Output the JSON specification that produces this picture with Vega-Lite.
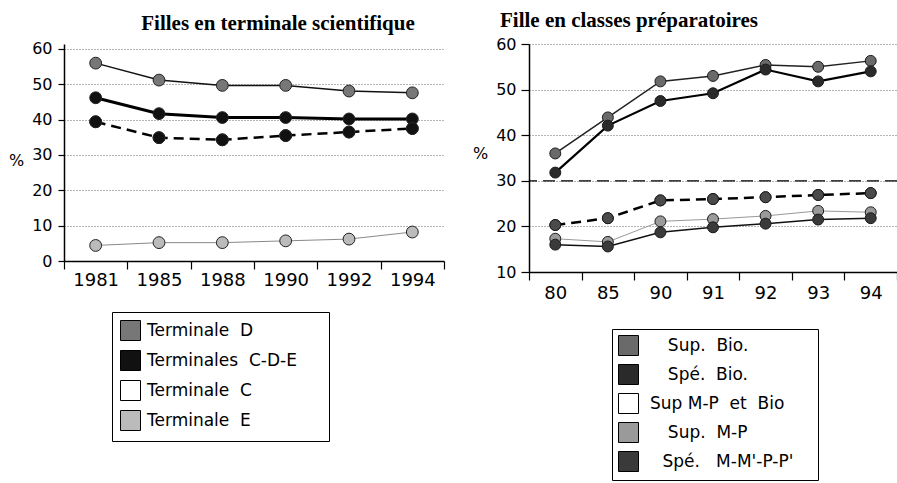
{
  "$schema": "https://vega.github.io/schema/vega-lite/v6.json",
  "background": "white",
  "padding": {"left": 8, "top": 10, "right": 0, "bottom": 0},
  "spacing": 27,
  "config": {
    "view": {"stroke": null},
    "font": "DejaVu Sans",
    "axis": {
      "domainColor": "black", "domainWidth": 1.5,
      "tickColor": "black", "tickWidth": 1.2,
      "labelColor": "black", "labelFont": "DejaVu Sans",
      "titleFont": "DejaVu Sans", "titleColor": "black", "titleFontWeight": "normal",
      "gridColor": "#444", "gridDash": [1, 2], "gridWidth": 0.8
    },
    "title": {"font": "Liberation Serif", "fontSize": 21, "fontWeight": "bold", "color": "black"},
    "legend": {
      "labelFont": "DejaVu Sans", "labelFontSize": 17, "labelColor": "black", "labelLimit": 400,
      "strokeColor": "black", "fillColor": "white",
      "symbolType": "square", "symbolSize": 400, "symbolOpacity": 1,
      "symbolStrokeColor": "black", "symbolStrokeWidth": 1
    }
  },
  "resolve": {"scale": {"fill": "independent"}, "legend": {"fill": "independent"}},
  "hconcat": [
    {
      "width": 380,
      "height": 217,
      "title": {"text": "Filles en terminale scientifique", "anchor": "middle", "frame": "group", "dx": 24, "offset": 7},
      "data": {"values": [
        {"serie": "Terminale D", "annee": "1981", "pct": 56.0},
        {"serie": "Terminale D", "annee": "1985", "pct": 51.2},
        {"serie": "Terminale D", "annee": "1988", "pct": 49.7},
        {"serie": "Terminale D", "annee": "1990", "pct": 49.7},
        {"serie": "Terminale D", "annee": "1992", "pct": 48.1},
        {"serie": "Terminale D", "annee": "1994", "pct": 47.6},
        {"serie": "Terminales C-D-E", "annee": "1981", "pct": 46.2},
        {"serie": "Terminales C-D-E", "annee": "1985", "pct": 41.7},
        {"serie": "Terminales C-D-E", "annee": "1988", "pct": 40.6},
        {"serie": "Terminales C-D-E", "annee": "1990", "pct": 40.6},
        {"serie": "Terminales C-D-E", "annee": "1992", "pct": 40.2},
        {"serie": "Terminales C-D-E", "annee": "1994", "pct": 40.2},
        {"serie": "Terminale C", "annee": "1981", "pct": 39.4},
        {"serie": "Terminale C", "annee": "1985", "pct": 34.9},
        {"serie": "Terminale C", "annee": "1988", "pct": 34.3},
        {"serie": "Terminale C", "annee": "1990", "pct": 35.5},
        {"serie": "Terminale C", "annee": "1992", "pct": 36.5},
        {"serie": "Terminale C", "annee": "1994", "pct": 37.5},
        {"serie": "Terminale E", "annee": "1981", "pct": 4.4},
        {"serie": "Terminale E", "annee": "1985", "pct": 5.2},
        {"serie": "Terminale E", "annee": "1988", "pct": 5.2},
        {"serie": "Terminale E", "annee": "1990", "pct": 5.7},
        {"serie": "Terminale E", "annee": "1992", "pct": 6.2},
        {"serie": "Terminale E", "annee": "1994", "pct": 8.2}
      ]},
      "encoding": {
        "x": {"field": "annee", "type": "ordinal", "bandPosition": 0.5,
          "scale": {"type": "band", "paddingInner": 0, "paddingOuter": 0},
          "axis": {"title": null, "labelAngle": 0, "tickBand": "extent", "tickSize": 8, "labelPadding": 2, "labelFontSize": 18, "grid": false}},
        "y": {"field": "pct", "type": "quantitative", "scale": {"domain": [0, 61.415], "nice": false},
          "axis": {"values": [0, 10, 20, 30, 40, 50, 60], "title": "%", "titleAngle": 0, "titleX": -48, "titleY": 116, "titleAlign": "center", "titleBaseline": "middle", "titleFontSize": 16, "labelFontSize": 16, "tickSize": 6, "labelPadding": 6, "grid": true}}
      },
      "layer": [
        {
          "transform": [{"filter": "datum.serie === 'Terminale E'"}],
          "mark": {"type": "line", "color": "#8a8a8a", "strokeWidth": 1}
        },
        {
          "transform": [{"filter": "datum.serie === 'Terminale D'"}],
          "mark": {"type": "line", "color": "#111", "strokeWidth": 1.5}
        },
        {
          "transform": [{"filter": "datum.serie === 'Terminales C-D-E'"}],
          "mark": {"type": "line", "color": "#000", "strokeWidth": 3}
        },
        {
          "transform": [{"filter": "datum.serie === 'Terminale C'"}],
          "mark": {"type": "line", "color": "#000", "strokeWidth": 2.5, "strokeDash": [10, 6]}
        },
        {
          "mark": {"type": "circle", "size": 140, "opacity": 1, "stroke": "#222", "strokeWidth": 1},
          "encoding": {
            "fill": {"field": "serie", "type": "nominal",
              "scale": {"domain": ["Terminale D", "Terminales C-D-E", "Terminale C", "Terminale E"], "range": ["#777777", "#111111", "#ffffff", "#bbbbbb"]},
              "legend": {
                "title": null, "orient": "none", "legendX": 48, "legendY": 268,
                "padding": 8, "rowPadding": 5, "labelOffset": 6, "labelLimit": 400,
                "symbolType": "square", "symbolSize": 400, "symbolOpacity": 1,
                "symbolStrokeColor": "#000", "symbolStrokeWidth": 1,
                "labelExpr": "datum.label === 'Terminales C-D-E' ? 'Terminales\u00a0\u00a0C-D-E\u00a0\u00a0\u2800' : replace(datum.label, ' ', '\u00a0\u00a0')"
              }}
          }
        },
        {
          "transform": [{"filter": "datum.serie === 'Terminale C'"}],
          "mark": {"type": "circle", "size": 140, "opacity": 1, "fill": "#111111", "stroke": "#222", "strokeWidth": 1}
        }
      ]
    },
    {
      "width": 368,
      "height": 228,
      "title": {"text": "Fille en classes préparatoires", "anchor": "start", "frame": "group", "dx": -29, "offset": 5},
      "data": {"values": [
        {"serie": "Sup. Bio.", "annee": "80", "pct": 36.0},
        {"serie": "Sup. Bio.", "annee": "85", "pct": 43.9},
        {"serie": "Sup. Bio.", "annee": "90", "pct": 51.8},
        {"serie": "Sup. Bio.", "annee": "91", "pct": 53.0},
        {"serie": "Sup. Bio.", "annee": "92", "pct": 55.4},
        {"serie": "Sup. Bio.", "annee": "93", "pct": 55.0},
        {"serie": "Sup. Bio.", "annee": "94", "pct": 56.3},
        {"serie": "Spé. Bio.", "annee": "80", "pct": 31.8},
        {"serie": "Spé. Bio.", "annee": "85", "pct": 42.1},
        {"serie": "Spé. Bio.", "annee": "90", "pct": 47.5},
        {"serie": "Spé. Bio.", "annee": "91", "pct": 49.2},
        {"serie": "Spé. Bio.", "annee": "92", "pct": 54.4},
        {"serie": "Spé. Bio.", "annee": "93", "pct": 51.8},
        {"serie": "Spé. Bio.", "annee": "94", "pct": 54.0},
        {"serie": "Sup M-P et Bio", "annee": "80", "pct": 20.3},
        {"serie": "Sup M-P et Bio", "annee": "85", "pct": 21.8},
        {"serie": "Sup M-P et Bio", "annee": "90", "pct": 25.7},
        {"serie": "Sup M-P et Bio", "annee": "91", "pct": 26.0},
        {"serie": "Sup M-P et Bio", "annee": "92", "pct": 26.4},
        {"serie": "Sup M-P et Bio", "annee": "93", "pct": 26.9},
        {"serie": "Sup M-P et Bio", "annee": "94", "pct": 27.3},
        {"serie": "Sup. M-P", "annee": "80", "pct": 17.3},
        {"serie": "Sup. M-P", "annee": "85", "pct": 16.6},
        {"serie": "Sup. M-P", "annee": "90", "pct": 21.1},
        {"serie": "Sup. M-P", "annee": "91", "pct": 21.6},
        {"serie": "Sup. M-P", "annee": "92", "pct": 22.3},
        {"serie": "Sup. M-P", "annee": "93", "pct": 23.4},
        {"serie": "Sup. M-P", "annee": "94", "pct": 23.1},
        {"serie": "Spé. M-M'-P-P'", "annee": "80", "pct": 16.0},
        {"serie": "Spé. M-M'-P-P'", "annee": "85", "pct": 15.6},
        {"serie": "Spé. M-M'-P-P'", "annee": "90", "pct": 18.7},
        {"serie": "Spé. M-M'-P-P'", "annee": "91", "pct": 19.8},
        {"serie": "Spé. M-M'-P-P'", "annee": "92", "pct": 20.6},
        {"serie": "Spé. M-M'-P-P'", "annee": "93", "pct": 21.5},
        {"serie": "Spé. M-M'-P-P'", "annee": "94", "pct": 21.8}
      ]},
      "layer": [
        {
          "data": {"values": [{"ref": 30}]},
          "mark": {"type": "rule", "color": "#000", "strokeWidth": 1.3, "strokeDash": [12, 6]},
          "encoding": {"y": {"field": "ref", "type": "quantitative", "scale": {"domain": [10, 60]},
              "axis": {"values": [10, 20, 30, 40, 50, 60], "title": "%", "titleAngle": 0, "titleX": -49, "titleY": 109, "titleAlign": "center", "titleBaseline": "middle", "titleFontSize": 16, "labelFontSize": 16, "tickSize": 8, "labelPadding": 5, "grid": true}}}
        },
        {
          "encoding": {
            "x": {"field": "annee", "type": "ordinal", "bandPosition": 0.5,
              "scale": {"type": "band", "paddingInner": 0, "paddingOuter": 0},
              "axis": {"title": null, "labelAngle": 0, "tickBand": "extent", "tickSize": 8, "labelPadding": 4, "labelFontSize": 18, "grid": false}},
            "y": {"field": "pct", "type": "quantitative", "scale": {"domain": [10, 60]},
              "axis": {"values": [10, 20, 30, 40, 50, 60], "title": "%", "titleAngle": 0, "titleX": -49, "titleY": 109, "titleAlign": "center", "titleBaseline": "middle", "titleFontSize": 16, "labelFontSize": 16, "tickSize": 8, "labelPadding": 5, "grid": true}}
          },
          "layer": [
            {
              "transform": [{"filter": "datum.serie === 'Sup. M-P'"}],
              "mark": {"type": "line", "color": "#999999", "strokeWidth": 1}
            },
            {
              "transform": [{"filter": "datum.serie === 'Sup. Bio.'"}],
              "mark": {"type": "line", "color": "#222", "strokeWidth": 1.5}
            },
            {
              "transform": [{"filter": "datum.serie === 'Spé. Bio.'"}],
              "mark": {"type": "line", "color": "#000", "strokeWidth": 2.2}
            },
            {
              "transform": [{"filter": "datum.serie === 'Sup M-P et Bio'"}],
              "mark": {"type": "line", "color": "#000", "strokeWidth": 2.5, "strokeDash": [10, 6]}
            },
            {
              "transform": [{"filter": "datum.serie === \"Spé. M-M'-P-P'\""}],
              "mark": {"type": "line", "color": "#111", "strokeWidth": 1.5}
            },
            {
              "mark": {"type": "circle", "size": 120, "opacity": 1, "stroke": "#1a1a1a", "strokeWidth": 1},
              "encoding": {
                "fill": {"field": "serie", "type": "nominal",
                  "scale": {"domain": ["Sup. Bio.", "Spé. Bio.", "Sup M-P et Bio", "Sup. M-P", "Spé. M-M'-P-P'"], "range": ["#6a6a6a", "#2a2a2a", "#ffffff", "#9a9a9a", "#3a3a3a"]},
                  "legend": {
                    "title": null, "orient": "none", "legendX": 83, "legendY": 285,
                    "padding": 6, "rowPadding": 4, "labelOffset": 11, "labelLimit": 400,
                    "symbolType": "square", "symbolSize": 400, "symbolOpacity": 1,
                    "symbolStrokeColor": "#000", "symbolStrokeWidth": 1,
                    "labelExpr": "datum.label === 'Sup. Bio.' ? '\u2800\u00a0Sup.\u00a0\u00a0Bio.' : datum.label === 'Spé. Bio.' ? '\u2800\u00a0Spé.\u00a0\u00a0Bio.' : datum.label === 'Sup M-P et Bio' ? 'Sup\u00a0M-P\u00a0\u00a0et\u00a0\u00a0Bio' : datum.label === 'Sup. M-P' ? '\u2800\u00a0Sup.\u00a0\u00a0M-P' : '\u2800Spé.\u00a0\u00a0\u00a0M-M\\'-P-P\\'\u00a0\u2800'"
                  }}
              }
            },
            {
              "transform": [{"filter": "datum.serie === 'Sup M-P et Bio'"}],
              "mark": {"type": "circle", "size": 120, "opacity": 1, "fill": "#4a4a4a", "stroke": "#1a1a1a", "strokeWidth": 1}
            }
          ]
        }
      ]
    }
  ]
}
